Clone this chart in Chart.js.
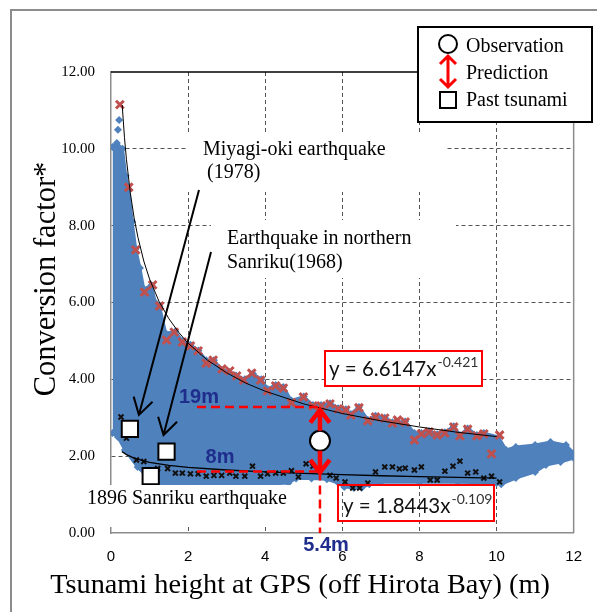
<!DOCTYPE html>
<html>
<head>
<meta charset="utf-8">
<script src="https://cdn.jsdelivr.net/npm/chart.js@4.4.1/dist/chart.umd.min.js"></script>
<style>
html,body{margin:0;padding:0;background:#fff;}
#wrap{width:597px;height:612px;position:relative;}
</style>
</head>
<body>
<div id="wrap"><canvas id="c"></canvas></div>
<script>
// ---------- data ----------
const xTickStep = 2;
const yTickStep = 2;

// upper edge of the simulated (blue) cloud
const cloudTop = [
  {x:0.04,y:10.05},{x:0.15,y:10.15},{x:0.30,y:10.0},{x:0.38,y:9.3},{x:0.46,y:8.95},
  {x:0.55,y:8.1},{x:0.64,y:7.4},{x:0.75,y:6.9},{x:0.85,y:6.35},{x:1.05,y:6.45},
  {x:1.15,y:6.0},{x:1.26,y:5.9},{x:1.42,y:5.2},{x:1.67,y:5.25},{x:1.85,y:5.0},
  {x:2.06,y:4.9},{x:2.27,y:4.75},{x:2.47,y:4.5},{x:2.67,y:4.5},{x:2.87,y:4.25},
  {x:3.06,y:4.2},{x:3.24,y:4.1},{x:3.47,y:4.0},{x:3.68,y:4.15},{x:3.90,y:4.0},
  {x:4.06,y:3.75},{x:4.27,y:3.85},{x:4.47,y:3.8},{x:4.68,y:3.45},{x:5.00,y:3.55},
  {x:5.24,y:3.33},{x:5.45,y:3.33},{x:5.68,y:3.38},{x:5.89,y:3.25},{x:6.09,y:3.22},
  {x:6.22,y:3.1},{x:6.43,y:3.28},{x:6.66,y:2.95},{x:6.86,y:3.05},{x:7.10,y:3.0},
  {x:7.30,y:2.88},{x:7.63,y:2.9},{x:7.87,y:2.6},{x:8.05,y:2.6},{x:8.25,y:2.65},
  {x:8.46,y:2.57},{x:8.66,y:2.62},{x:8.89,y:2.78},{x:9.05,y:2.55},{x:9.25,y:2.72},
  {x:9.49,y:2.55},{x:9.67,y:2.6},{x:10.05,y:2.5},{x:10.25,y:2.16},{x:10.5,y:2.24},
  {x:11.0,y:2.29},{x:11.4,y:2.37},{x:11.8,y:2.29},{x:12.0,y:2.08}
];
// lower edge of the simulated (blue) cloud
const cloudBottom = [
  {x:0.04,y:2.6},{x:0.18,y:2.5},{x:0.36,y:2.16},{x:0.69,y:1.72},{x:0.95,y:1.46},
  {x:1.10,y:1.28},{x:2.0,y:1.27},{x:3.0,y:1.27},{x:4.0,y:1.27},{x:4.6,y:1.3},
  {x:4.8,y:1.42},{x:5.2,y:1.42},{x:5.6,y:1.4},{x:5.9,y:1.3},{x:6.05,y:1.2},
  {x:6.3,y:1.17},{x:6.5,y:1.18},{x:6.7,y:1.27},{x:7.0,y:1.33},{x:8.0,y:1.32},
  {x:9.0,y:1.32},{x:10.0,y:1.3},{x:10.12,y:1.27},{x:10.5,y:1.43},{x:11.0,y:1.59},
  {x:11.28,y:1.77},{x:11.66,y:1.85},{x:12.0,y:1.95}
];
// isolated simulated cases
const cloudStray = [
  {x:0.21,y:10.75},{x:0.18,y:10.5},{x:0.12,y:10.0},{x:11.9,y:2.0},{x:12.0,y:2.05}
];
// maximum conversion factor per height (red x)
const upperEnvelope = [
  {x:0.23,y:11.15},{x:0.46,y:9.0},{x:0.64,y:7.37},{x:0.87,y:6.27},{x:1.08,y:6.46},
  {x:1.26,y:5.91},{x:1.44,y:5.02},{x:1.64,y:5.23},{x:1.85,y:4.97},{x:2.06,y:4.87},
  {x:2.26,y:4.74},{x:2.47,y:4.42},{x:2.65,y:4.5},{x:2.88,y:4.27},{x:3.08,y:4.22},
  {x:3.26,y:4.09},{x:3.44,y:3.98},{x:3.65,y:4.16},{x:3.88,y:3.98},{x:4.06,y:3.7},
  {x:4.27,y:3.83},{x:4.47,y:3.77},{x:4.68,y:3.39},{x:4.99,y:3.54},{x:5.24,y:3.31},
  {x:5.45,y:3.31},{x:5.68,y:3.36},{x:5.89,y:3.23},{x:6.09,y:3.2},{x:6.22,y:3.07},
  {x:6.43,y:3.26},{x:6.66,y:2.92},{x:6.86,y:3.02},{x:7.10,y:2.99},{x:7.30,y:2.86},
  {x:7.43,y:2.94},{x:7.63,y:2.89},{x:7.87,y:2.42},{x:8.05,y:2.58},{x:8.25,y:2.63},
  {x:8.46,y:2.55},{x:8.66,y:2.6},{x:8.89,y:2.76},{x:9.05,y:2.53},{x:9.25,y:2.7},
  {x:9.49,y:2.53},{x:9.67,y:2.58},{x:9.87,y:2.06},{x:10.08,y:2.55}
];
// minimum conversion factor per height (black x)
const lowerEnvelope = [
  {x:0.26,y:3.02},{x:0.40,y:2.47},{x:0.66,y:1.9},{x:0.85,y:1.86},{x:1.21,y:1.68},
  {x:1.47,y:1.68},{x:1.67,y:1.56},{x:1.85,y:1.56},{x:2.06,y:1.54},{x:2.26,y:1.54},
  {x:2.47,y:1.48},{x:2.67,y:1.5},{x:2.87,y:1.5},{x:3.08,y:1.56},{x:3.24,y:1.48},
  {x:3.47,y:1.48},{x:3.67,y:1.74},{x:3.88,y:1.48},{x:4.06,y:1.54},{x:4.27,y:1.56},
  {x:4.47,y:1.56},{x:4.68,y:1.62},{x:4.86,y:1.46},{x:5.06,y:1.8},{x:5.24,y:1.74},
  {x:5.68,y:1.5},{x:5.84,y:1.43},{x:6.07,y:1.33},{x:6.27,y:1.17},{x:6.45,y:1.17},
  {x:6.66,y:1.3},{x:6.86,y:1.59},{x:7.10,y:1.72},{x:7.30,y:1.72},{x:7.48,y:1.67},
  {x:7.63,y:1.69},{x:7.87,y:1.64},{x:8.05,y:1.72},{x:8.28,y:1.38},{x:8.46,y:1.38},
  {x:8.66,y:1.61},{x:8.87,y:1.74},{x:9.05,y:1.87},{x:9.25,y:1.56},{x:9.46,y:1.59},
  {x:9.67,y:1.43},{x:9.87,y:1.48},{x:10.08,y:1.33}
];
// fitted curves as drawn: y = 6.6147x^-0.421 and y = 1.8443x^-0.109
const upperFit = [
  {x:0.29,y:11.14},{x:0.35,y:10.29},{x:0.4,y:9.73},{x:0.5,y:8.86},{x:0.6,y:8.20},
  {x:0.7,y:7.69},{x:0.85,y:7.08},{x:1,y:6.61},{x:1.25,y:6.02},{x:1.5,y:5.58},
  {x:1.75,y:5.23},{x:2,y:4.94},{x:2.5,y:4.50},{x:3,y:4.17},{x:3.5,y:3.90},
  {x:4,y:3.69},{x:5,y:3.36},{x:6,y:3.11},{x:7,y:2.92},{x:8,y:2.76},{x:9,y:2.62},{x:10,y:2.51}
];
const lowerFit = [
  {x:0.28,y:2.12},{x:0.4,y:2.04},{x:0.6,y:1.95},{x:0.8,y:1.89},{x:1,y:1.84},
  {x:1.5,y:1.76},{x:2,y:1.71},{x:3,y:1.64},{x:4,y:1.59},{x:5,y:1.55},{x:6,y:1.52},
  {x:7,y:1.49},{x:8,y:1.47},{x:9,y:1.45},{x:10,y:1.43}
];
const upperFitLabel = ['y = 6.6147x', '-0.421'];
const lowerFitLabel = ['y = 1.8443x', '-0.109'];

// past tsunamis (white squares)
const pastTsunami = [{x:0.49,y:2.71},{x:1.44,y:2.12},{x:1.03,y:1.48}];
const pastTsunamiNames = [
  ['Miyagi-oki earthquake','(1978)'],
  ['Earthquake in northern','Sanriku(1968)'],
  ['1896 Sanriku earthquake']
];
// observation and prediction
const observation = [{x:5.42,y:2.40}];
const observationLabel = '5.4m';
const predictionFactors = [3.28, 1.60];
const predictionLabels = ['19m', '8m'];
const predictionFromX = 2.23;

// ---------- derived line data ----------
const predLines = predictionFactors.map(f => [{x:predictionFromX,y:f},{x:observation[0].x,y:f}]);
const obsDrop = [{x:observation[0].x,y:predictionFactors[1]},{x:observation[0].x,y:0}];

const BLUE = 'rgb(79,129,189)';
const RED_X = 'rgb(192,80,77)';
const NAVY = '#1f2d8c';

const annot = {
  id: 'annot',
  beforeDraw(chart) {
    const c = chart.ctx;
    c.save();
    c.fillStyle = '#fff';
    c.fillRect(0, 0, chart.width, chart.height);
    c.strokeStyle = '#8c8c8c';
    c.lineWidth = 2;
    c.beginPath(); c.moveTo(11, chart.height); c.lineTo(11, 10); c.lineTo(chart.width, 10); c.stroke();
    c.restore();
  },
  beforeDatasetsDraw(chart) {
    const c = chart.ctx, a = chart.chartArea;
    c.save();
    c.lineWidth = 1.5; c.strokeStyle = '#000';
    c.beginPath(); c.moveTo(a.left, a.top); c.lineTo(a.right, a.top); c.stroke();
    c.strokeStyle = '#8c8c8c';
    c.beginPath(); c.moveTo(a.right, a.top); c.lineTo(a.right, a.bottom); c.stroke();
    c.restore();
  },
  afterDatasetsDraw(chart) {
    const c = chart.ctx;
    const xs = chart.scales.x, ys = chart.scales.y;
    const X = v => xs.getPixelForValue(v), Y = v => ys.getPixelForValue(v);
    const arrow = (x1, y1, x2, y2, head, spread) => {
      const ang = Math.atan2(y2 - y1, x2 - x1);
      c.beginPath();
      c.moveTo(x1, y1); c.lineTo(x2, y2);
      c.moveTo(x2 - head * Math.cos(ang - spread), y2 - head * Math.sin(ang - spread));
      c.lineTo(x2, y2);
      c.lineTo(x2 - head * Math.cos(ang + spread), y2 - head * Math.sin(ang + spread));
      c.stroke();
    };
    c.save();
    // white label boxes
    c.fillStyle = '#fff';
    c.fillRect(188, 132, 257, 60);
    c.fillRect(211, 220, 245, 58);
    c.fillRect(85, 485, 212, 42);
    // label texts
    c.fillStyle = '#000';
    c.font = '20px "Liberation Serif"';
    c.textAlign = 'left'; c.textBaseline = 'alphabetic';
    c.fillText(pastTsunamiNames[0][0], 203, 155);
    c.fillText(pastTsunamiNames[0][1], 207, 178);
    c.fillText(pastTsunamiNames[1][0], 227, 244);
    c.fillText(pastTsunamiNames[1][1], 227, 268);
    c.fillText(pastTsunamiNames[2][0], 87, 504);
    // arrows to the squares
    c.strokeStyle = '#000'; c.lineWidth = 2; c.lineCap = 'butt';
    const s1 = {x: X(pastTsunami[0].x), y: Y(pastTsunami[0].y)};
    const s2 = {x: X(pastTsunami[1].x), y: Y(pastTsunami[1].y)};
    arrow(199, 190, s1.x + 9, s1.y - 14, 19, 0.54);
    arrow(211, 252, s2.x - 3, s2.y - 16.5, 19, 0.54);
    // prediction arrows
    const ox = X(observation[0].x), oy = Y(observation[0].y);
    c.strokeStyle = '#ff0000'; c.lineWidth = 4.5;
    arrow(ox, oy - 10, ox, Y(predictionFactors[0]) + 3, 16, 0.65);
    arrow(ox, oy + 10, ox, Y(predictionFactors[1]) + 1, 16, 0.65);
    // height labels
    c.fillStyle = NAVY;
    c.font = 'bold 20px "Liberation Sans"';
    c.textAlign = 'center'; c.textBaseline = 'middle';
    c.fillText(predictionLabels[0], 199, 397);
    c.fillText(predictionLabels[1], 220, 457);
    c.fillText(observationLabel, 326, 545);
    // equation boxes
    const eqBox = (x1, y1, x2, y2, lab, tx, base, opaque) => {
      if (opaque) { c.fillStyle = '#fff'; c.fillRect(x1, y1, x2 - x1, y2 - y1); }
      c.strokeStyle = '#ff0000'; c.lineWidth = 2; c.strokeRect(x1, y1, x2 - x1, y2 - y1);
      c.textAlign = 'left'; c.textBaseline = 'alphabetic';
      c.fillStyle = '#111'; c.font = '20.5px Lato';
      c.fillText(lab[0], tx, base);
      const w = c.measureText(lab[0]).width;
      c.fillStyle = '#333'; c.font = '14px Lato';
      c.fillText(lab[1], tx + w + 1, base - 9);
    };
    eqBox(325, 351, 482, 386, upperFitLabel, 329, 376, true);
    eqBox(338, 485, 494, 521, lowerFitLabel, 343, 513, false);
    // legend
    c.fillStyle = '#fff'; c.fillRect(418, 27, 174, 95);
    c.strokeStyle = '#000'; c.lineWidth = 2; c.strokeRect(418, 27, 174, 95);
    c.beginPath(); c.arc(448, 44, 9, 0, Math.PI * 2); c.fillStyle = '#fff'; c.fill(); c.stroke();
    c.strokeStyle = '#ff0000'; c.lineWidth = 3;
    c.beginPath();
    c.moveTo(448, 56); c.lineTo(448, 87);
    c.moveTo(440, 64); c.lineTo(448, 56); c.lineTo(456, 64);
    c.moveTo(440, 79); c.lineTo(448, 87); c.lineTo(456, 79);
    c.stroke();
    c.strokeStyle = '#000'; c.lineWidth = 2; c.strokeRect(440, 92, 16, 16);
    c.fillStyle = '#000'; c.font = '20px "Liberation Serif"';
    c.textAlign = 'left'; c.textBaseline = 'alphabetic';
    c.fillText('Observation', 466, 52);
    c.fillText('Prediction', 466, 79);
    c.fillText('Past tsunami', 466, 106);
    // axis titles
    c.font = '28.3px "Liberation Serif"';
    c.textAlign = 'center';
    c.fillText('Tsunami height at GPS (off Hirota Bay) (m)', 300, 593);
    c.save();
    c.translate(55, 279); c.rotate(-Math.PI / 2);
    c.font = '30.5px "Liberation Serif"';
    c.fillText('Conversion factor*', 0, 0);
    c.restore();
    c.restore();
  }
};

new Chart(document.getElementById('c'), {
  type: 'line',
  data: {
    datasets: [
      { data: cloudTop, borderColor: BLUE, borderWidth: 3, backgroundColor: BLUE, fill: '+1',
        pointStyle: 'rectRot', pointRadius: 4, pointBackgroundColor: BLUE, pointBorderWidth: 0, order: 20 },
      { data: cloudBottom, borderColor: BLUE, borderWidth: 3, backgroundColor: BLUE, fill: false,
        pointStyle: 'rectRot', pointRadius: 4, pointBackgroundColor: BLUE, pointBorderWidth: 0, order: 20 },
      { data: cloudStray, showLine: false, pointStyle: 'rectRot', pointRadius: 4,
        pointBackgroundColor: BLUE, pointBorderWidth: 0, order: 19 },
      { data: upperEnvelope, showLine: false, pointStyle: 'crossRot', pointRadius: 5.5,
        pointBorderColor: RED_X, pointBorderWidth: 3, order: 8 },
      { data: lowerEnvelope, showLine: false, pointStyle: 'crossRot', pointRadius: 3.5,
        pointBorderColor: '#111', pointBorderWidth: 2, order: 8 },
      { data: upperFit, borderColor: '#000', borderWidth: 1, pointRadius: 0, fill: false, order: 7 },
      { data: lowerFit, borderColor: '#000', borderWidth: 1.3, pointRadius: 0, fill: false, order: 7 },
      { data: predLines[0], borderColor: '#ff0000', borderWidth: 2.5, borderDash: [9, 5], pointRadius: 0, fill: false, order: 5 },
      { data: predLines[1], borderColor: '#ff0000', borderWidth: 2.5, borderDash: [9, 5], pointRadius: 0, fill: false, order: 5 },
      { data: obsDrop, borderColor: '#ff0000', borderWidth: 2.5, borderDash: [9, 5], pointRadius: 0, fill: false, order: 5 },
      { data: pastTsunami, showLine: false, pointStyle: 'rect', pointRadius: 11.5,
        pointBackgroundColor: '#fff', pointBorderColor: '#000', pointBorderWidth: 2, order: 2 },
      { data: observation, showLine: false, pointStyle: 'circle', pointRadius: 10,
        pointBackgroundColor: '#fff', pointBorderColor: '#000', pointBorderWidth: 2, order: 1 }
    ]
  },
  options: {
    responsive: true,
    maintainAspectRatio: false,
    animation: false,
    devicePixelRatio: 1,
    layout: { padding: { top: 72, right: 19, left: 0, bottom: 0 } },
    elements: { line: { tension: 0 } },
    plugins: { legend: { display: false }, tooltip: { enabled: false } },
    scales: {
      x: {
        type: 'linear', min: 0, max: 12,
        ticks: { stepSize: xTickStep, color: '#000', padding: 15, maxRotation: 0,
                 font: { family: 'Liberation Sans', size: 15 } },
        grid: { drawTicks: false, lineWidth: 1,
                color: c => (c.tick && (c.tick.value === 0 || c.tick.value === 12)) ? 'rgba(0,0,0,0)' : '#555' },
        border: { display: true, color: '#8c8c8c', width: 1.5, dash: [4, 3] },
        afterFit: s => { s.height = 79; }
      },
      y: {
        type: 'linear', min: 0, max: 12,
        ticks: { stepSize: yTickStep, color: '#000', padding: 16,
                 font: { family: 'Liberation Serif', size: 15 },
                 callback: v => Number(v).toFixed(2) },
        grid: { drawTicks: false, lineWidth: 1,
                color: c => (c.tick && (c.tick.value === 0 || c.tick.value === 12)) ? 'rgba(0,0,0,0)' : '#555' },
        border: { display: true, color: '#8c8c8c', width: 1.5, dash: [4, 3] },
        afterFit: s => { s.width = 111; }
      }
    }
  },
  plugins: [annot]
});
</script>
</body>
</html>
